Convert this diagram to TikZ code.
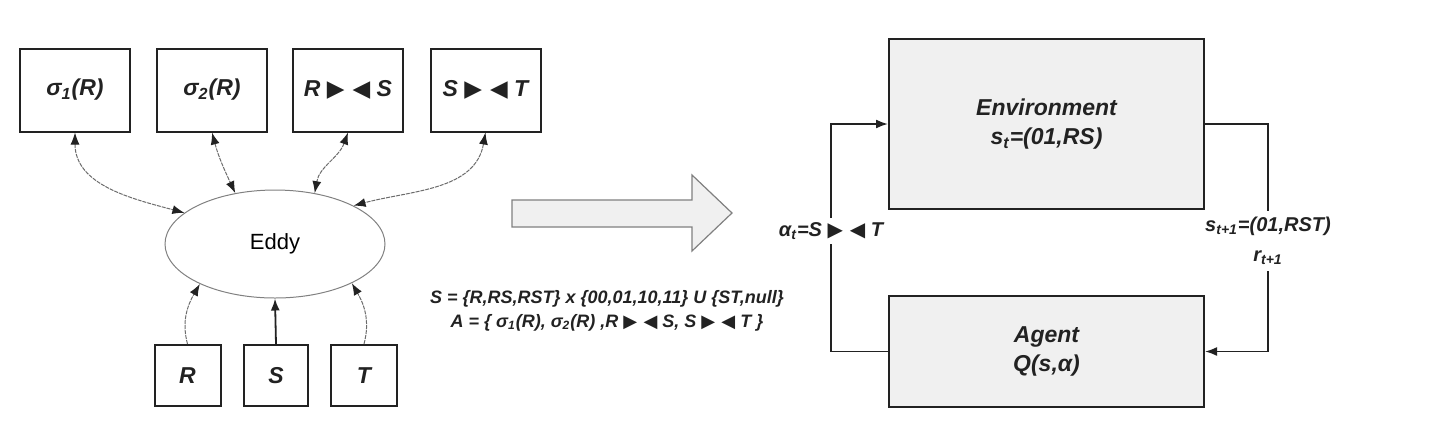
\documentclass[tikz,border=0pt]{standalone}
\usepackage{fontspec}
\setmainfont{Liberation Sans}
\newfontfamily\symfont{DejaVu Sans}
\usetikzlibrary{arrows.meta,shapes.geometric}

\definecolor{ink}{HTML}{222222}
\definecolor{boxfill}{HTML}{F0F0F0}
\newcommand{\jn}{{\symfont ▶ ◀}}
\newcommand{\bi}[1]{\fontsize{#1}{1.3\dimexpr#1pt\relax}\selectfont\bfseries\itshape}

\tikzset{
	op/.style={draw=ink,line width=1pt,minimum width=55pt,minimum height=41.5pt,text=ink,font=\bi{11.5}},
	rel/.style={draw=ink,line width=1pt,minimum width=33pt,minimum height=30.5pt,text=ink,font=\bi{11.5}},
	eddy/.style={ellipse,draw=gray,line width=0.5pt,minimum width=110pt,minimum height=54pt,font=\fontsize{11}{13}\selectfont},
	link/.style={draw=gray!85!black,line width=0.5pt,dash pattern=on 2pt off 0.5pt},
	block/.style={draw=ink,fill=boxfill,line width=1pt,align=center,text=ink,minimum width=157.5pt,font=\bi{11.5}},
	flow/.style={draw=ink,line width=0.9pt},
	lbl/.style={align=center,text=ink,inner sep=2pt,font=\bi{10}}
}

\begin{document}
\begin{tikzpicture}[x=0.5pt,y=-0.5pt,>={Latex[length=6pt,width=4.5pt,color=ink]}]
\useasboundingbox (0,0) rectangle (1440,436);

% OPERATORS
\node[op] (s1) at (75,90) {σ\textsubscript{1}(R)};
\node[op] (s2) at (212,90) {σ\textsubscript{2}(R)};
\node[op] (jrs) at (348,90) {R \jn{} S};
\node[op] (jst) at (485.5,90) {S \jn{} T};

% EDDY
\node[eddy] (eddy) at (275,244) {Eddy};
\draw[link,<->] (s1.south) to[out=-90,in=165] (eddy.161);
\draw[link,<->] (s2.south) to[out=-75,in=115] (eddy.128);
\draw[link,<->] (jrs.south) to[out=-110,in=80] (eddy.52);
\draw[link,<->] (jst.south) to[out=-100,in=15] (eddy.26);

% RELATIONS
\node[rel] (r) at (187.5,375.5) {R};
\node[rel,minimum width=32pt] (s) at (276,375.5) {S};
\node[rel] (t) at (364,375.5) {T};
\draw[link,->] (r.north) to[out=105,in=-120] (eddy.208);
\draw[flow,->] (s.north) -- (eddy.south);
\draw[link,->] (t.north) to[out=75,in=-60] (eddy.-27);

% BIG ARROW
\draw[gray,fill=gray!12,line width=0.6pt] (512,200) -- (692,200) -- (692,175) -- (732,213)
	-- (692,251) -- (692,227) -- (512,227) -- cycle;
\node[lbl,font=\bi{9}] (sets) at (607,311) {S = \{R,RS,RST\} x \{00,01,10,11\} U \{ST,null\}\\
	A = \{ σ\textsubscript{1}(R), σ\textsubscript{2}(R) ,R \jn{} S, S \jn{} T \}};

% LEARNING LOOP
\node[block,minimum height=85pt] (env) at (1046.5,124) {Environment\\s\textsubscript{t}=(01,RS)};
\node[block,minimum height=55.5pt] (agent) at (1046.5,351.5) {Agent\\Q(s,α)};
\node[lbl] (act) at (831,231) {α\textsubscript{t}=S \jn{} T};
\node[lbl,inner sep=3pt] (nxt) at (1268,241) {s\textsubscript{t+1}=(01,RST)\\[2pt]r\textsubscript{t+1}};
\draw[flow] (agent.west) -| (act.south);
\draw[flow,->] (act.north) |- (env.west);
\draw[flow] (env.east) -| (nxt.north);
\draw[flow,->] (nxt.south) |- (agent.east);
\end{tikzpicture}
\end{document}
